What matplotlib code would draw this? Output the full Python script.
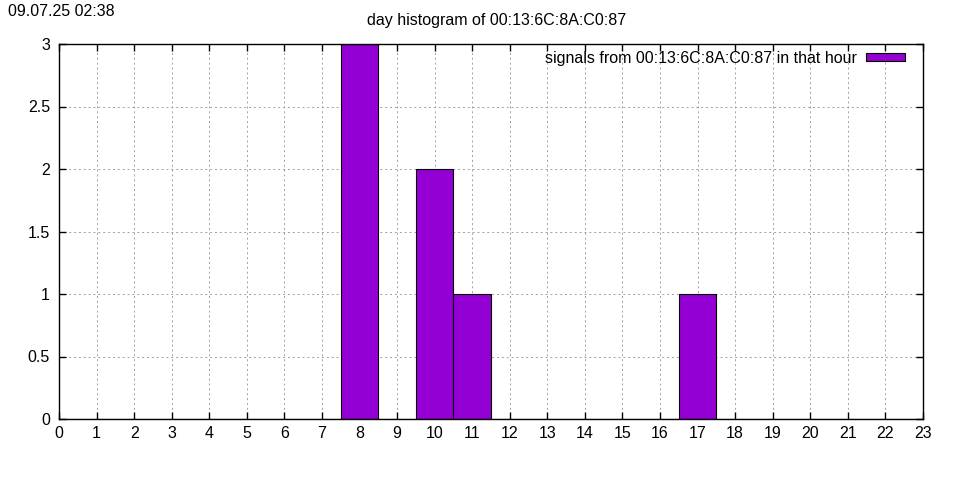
import matplotlib
matplotlib.use("Agg")
import matplotlib.pyplot as plt
from matplotlib.patches import Rectangle

plt.rcParams["font.family"] = ["Liberation Sans", "DejaVu Sans"]

hours = list(range(24))
counts = [0, 0, 0, 0, 0, 0, 0, 0, 3, 0, 2, 1, 0, 0, 0, 0, 0, 1, 0, 0, 0, 0, 0, 0]
x_ticks = list(range(24))
y_ticks = [0, 0.5, 1, 1.5, 2, 2.5, 3]
y_labels = ["0", "0.5", "1", "1.5", "2", "2.5", "3"]

mac = "00:13:6C:8A:C0:87"
stamp = "09.07.25 02:38"
bar_color = "#9400d3"
fs = 11.5

fig = plt.figure(figsize=(9.6, 4.8), dpi=100, facecolor="white")
ax = fig.add_axes([59 / 960, 61 / 480, 864 / 960, 375 / 480])

ax.bar(hours, counts, width=1.0, color=bar_color, edgecolor="black",
       linewidth=0.8, zorder=3)

ax.set_xlim(0, 23)
ax.set_ylim(0, 3)
ax.set_xticks(x_ticks)
ax.set_xticklabels([str(t) for t in x_ticks])
ax.set_yticks(y_ticks)
ax.set_yticklabels(y_labels)
ax.tick_params(direction="in", length=5, width=1, labelsize=fs,
               top=True, right=True, pad=6.5)
ax.tick_params(axis="x", pad=5)
ax.grid(True, color="#a0a0a0", linestyle=(0, (2, 3)), linewidth=0.7, zorder=0)
for s in ax.spines.values():
    s.set_linewidth(1.0)
    s.set_zorder(4)

handle = Rectangle((0, 0), 1, 1, facecolor=bar_color, edgecolor="black", linewidth=0.8)
ax.legend([handle], [f"signals from {mac} in that hour"], loc="upper right",
          frameon=False, markerfirst=False, fontsize=fs, handlelength=2.45,
          handleheight=0.4, handletextpad=0.56, borderaxespad=0.3,
          bbox_to_anchor=(0.9925, 1.012))

fig.text(497 / 960, 1 - 21 / 480, f"day histogram of {mac}", ha="center",
         va="center", fontsize=fs)
fig.text(8 / 960, 1 - 12 / 480, stamp, ha="left", va="center", fontsize=fs)

fig.savefig("out.png", dpi=100, facecolor="white")
